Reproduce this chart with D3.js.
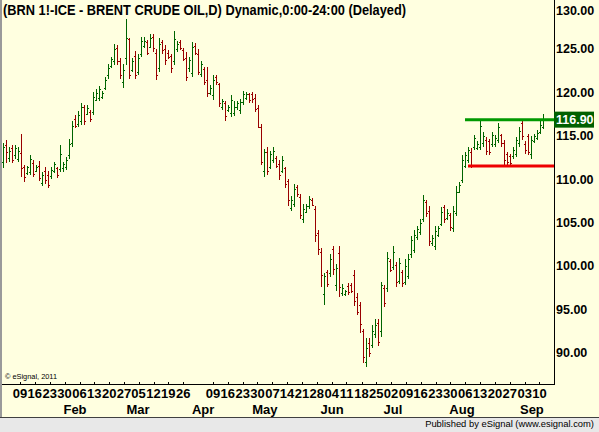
<!DOCTYPE html>
<html><head><meta charset="utf-8">
<script src="https://cdn.jsdelivr.net/npm/d3@7"></script>
<style>html,body{margin:0;padding:0;background:#FFFFE0;}svg{display:block;}</style>
</head><body>
<svg id="c" width="599" height="432"></svg>
<script>
// ---- data ----
const opens = [112.0,114.0,112.5,113.6,112.8,112.4,113.1,111.4,110.7,110.9,111.9,111.0,111.6,109.6,111.0,110.5,110.4,111.0,111.3,111.2,
111.3,111.5,112.8,114.2,117.0,116.4,116.8,118.3,117.6,117.8,117.8,119.2,119.4,119.5,120.6,122.0,123.1,123.6,125.2,123.7,
121.2,124.0,126.2,122.6,124.2,122.4,124.5,125.4,125.8,125.3,126.4,124.6,122.8,125.8,125.0,124.6,124.2,123.6,125.0,125.8,
124.9,124.0,122.8,122.3,125.4,124.5,122.2,122.7,121.5,120.0,119.7,121.8,121.0,118.3,118.8,118.0,117.7,117.7,118.3,118.0,
118.9,119.4,119.8,119.9,119.4,118.2,116.0,111.0,113.2,111.5,112.2,112.5,111.8,111.0,111.3,109.8,106.7,107.2,109.1,108.0,
105.4,106.3,106.9,107.7,106.6,103.8,101.6,96.8,99.3,99.2,102.0,97.8,101.5,96.9,96.8,97.7,97.9,99.0,96.5,95.5,
92.5,89.0,91.2,91.0,92.2,93.5,92.5,97.5,97.5,100.6,99.9,100.2,98.3,99.4,98.2,98.9,101.4,101.9,103.4,104.0,
105.5,107.4,106.4,102.7,102.4,103.6,104.9,106.8,105.6,105.9,104.4,106.2,108.6,110.0,111.6,112.2,113.2,113.7,113.6,113.8,
114.2,114.6,114.4,114.1,114.1,114.6,115.1,114.2,112.9,112.7,112.7,113.0,114.2,116.5,114.1,115.0,112.9,114.4,114.8,115.5,
116.0];
const highs = [114.2,114.6,113.7,114.0,114.0,113.7,115.3,111.7,111.6,112.8,112.2,111.7,112.1,110.9,111.4,111.0,111.5,112.0,111.5,114.0,
112.0,112.6,114.7,116.7,117.4,117.9,118.8,118.6,118.6,118.0,120.1,120.4,120.8,120.2,121.8,123.3,124.1,125.6,125.5,124.0,
123.3,128.5,126.3,124.0,124.8,124.5,126.4,126.4,126.1,126.8,126.8,125.0,126.3,126.1,125.5,124.9,124.5,127.1,125.9,126.1,
125.2,124.7,124.1,125.8,125.7,125.0,123.7,123.0,123.0,120.9,122.0,122.0,121.1,119.3,119.1,118.6,119.7,119.0,119.1,119.3,
120.2,120.1,120.0,120.1,119.8,118.6,116.4,113.5,113.7,113.3,113.8,112.7,112.2,112.7,111.5,110.1,108.1,109.5,109.4,108.3,
107.2,107.2,108.1,107.9,106.9,104.2,102.1,99.2,99.6,101.4,102.4,100.3,102.3,98.0,97.3,98.1,98.1,99.6,96.9,95.9,
92.8,91.7,91.7,93.2,93.9,93.9,98.2,97.8,101.7,100.9,102.3,100.5,101.0,99.6,100.8,101.4,103.5,104.2,104.7,105.4,
108.2,107.7,106.9,103.6,104.6,104.7,106.8,107.1,106.6,106.2,106.9,109.2,109.7,112.8,113.2,113.8,113.6,115.1,114.4,116.9,
115.5,114.9,114.7,115.5,115.1,116.5,115.3,114.5,113.2,113.0,113.8,114.9,116.1,116.8,114.4,115.3,115.0,115.3,115.7,116.7,
117.5];
const lows = [111.3,111.9,112.0,111.9,112.4,112.0,110.3,109.7,110.5,110.5,110.3,110.9,109.8,109.2,109.5,109.0,110.1,110.7,110.2,110.9,
110.9,111.1,112.4,113.8,115.9,116.1,116.3,116.3,117.4,116.6,117.4,119.0,119.0,119.3,120.3,121.6,122.9,123.2,123.2,121.6,
120.5,123.2,121.6,122.4,121.6,122.0,124.1,125.1,124.3,125.1,124.7,121.5,122.4,124.5,123.2,123.9,122.3,123.2,124.7,124.9,
123.6,121.4,122.4,121.8,124.3,122.0,121.8,120.9,119.5,119.7,119.2,120.9,118.3,118.0,116.7,117.8,117.2,117.3,118.0,117.5,
118.6,119.2,118.8,118.8,117.8,115.9,111.7,110.3,110.5,111.2,111.9,111.3,109.9,110.7,109.0,106.9,106.4,106.8,108.0,105.4,
105.0,106.1,106.6,106.9,102.8,101.3,97.6,95.5,97.6,98.8,99.0,97.2,96.5,96.6,96.6,96.7,96.9,95.4,94.4,92.3,
88.9,88.4,89.6,90.6,91.7,90.8,91.9,95.3,97.1,99.3,99.6,97.6,98.0,97.6,97.8,98.5,101.0,101.5,103.0,103.6,
105.1,105.7,102.3,102.4,101.9,103.4,104.6,105.0,105.3,104.1,104.0,105.8,108.4,109.6,111.3,111.9,111.3,113.4,113.4,113.4,
113.8,112.8,112.8,113.8,113.8,114.2,113.8,111.7,111.7,111.5,112.4,112.6,113.8,114.5,113.0,112.8,112.4,114.2,114.5,115.3,
115.8];
const closes = [113.8,113.2,113.3,112.3,113.6,113.3,111.3,110.3,111.4,112.4,110.6,111.5,110.2,110.5,109.9,109.4,111.1,111.8,110.5,113.0,
111.8,112.2,114.1,116.2,116.2,117.4,118.3,116.8,118.2,117.0,119.5,120.0,120.4,120.0,121.5,122.9,123.9,125.0,123.6,122.0,
122.6,126.3,122.0,123.6,122.0,124.0,126.0,126.0,124.6,126.3,125.1,122.0,125.6,124.9,123.8,124.1,122.8,126.2,125.6,125.2,
123.9,121.8,123.8,125.3,124.6,122.4,123.3,121.2,120.0,120.6,121.5,121.2,118.8,119.0,117.3,118.4,119.2,118.4,118.8,118.9,
119.8,119.9,119.2,119.3,118.1,116.1,112.0,113.2,111.0,112.9,113.3,111.6,110.5,112.3,109.5,107.6,107.6,108.9,108.3,105.9,
106.6,106.9,107.8,107.1,103.6,102.0,99.0,98.9,98.0,100.8,99.7,99.8,97.6,97.5,97.2,97.0,97.2,96.0,94.8,93.4,
89.6,90.6,90.0,92.5,93.2,91.3,97.8,95.8,101.0,99.6,101.7,98.2,100.4,98.1,100.1,100.8,103.0,103.6,104.3,105.0,
107.6,106.1,102.9,103.3,104.1,104.4,106.3,105.5,106.2,104.5,106.4,108.6,109.4,112.3,112.8,113.4,111.7,114.8,114.1,116.2,
115.0,113.3,113.2,115.1,114.8,116.0,114.2,112.2,112.0,111.9,113.4,114.5,115.6,115.0,113.4,113.2,114.5,115.0,115.4,116.3,
116.9];
const priceTicks = [90,95,100,105,110,115,120,125,130];
const lastPrice = 116.90;
const resistance = {level:116.90, fromBar:154};
const support = {level:111.55, fromBar:155};
const weekIdx = [5.7,10.6,15.6,20.5,25.5,30.4,35.4,40.3,45.2,50.2,55.1,60.1,70.0,74.9,79.9,84.8,89.8,94.7,99.7,104.6,
109.6,114.5,119.5,124.4,129.3,134.3,139.2,144.2,149.1,154.1,159.0,164.0,168.9,173.9,178.8];
const weekLabels = ["09","16","23","30","06","13","20","27","05","12","19","26","09","16","23","30","07","14","21","28",
"04","11","18","25","02","09","16","23","30","06","13","20","27","03","10"];
const monthIdx = [24,45,66.7,87.3,109.7,130,153,176.3];
const monthLabels = ["Feb","Mar","Apr","May","Jun","Jul","Aug","Sep"];
const title = "(BRN 1!-ICE - BRENT CRUDE OIL,D) Dynamic,0:00-24:00 (Delayed)";

// ---- drawing ----
const W=599,H=432, plotR=554, axisY=384, footY=417;
const svg = d3.select("#c");
const FONT = "'Liberation Sans', Arial, sans-serif";
svg.append("rect").attr("x",0).attr("y",0).attr("width",W).attr("height",H).attr("fill","#FFFFE0");

const x = d3.scaleLinear().domain([0,180]).range([3,543]);
const y = d3.scaleLinear().domain([90,130]).range([353.2,5.9]);

const bars = d3.range(opens.length).map(i=>({i,o:opens[i],h:highs[i],l:lows[i],c:closes[i]}));
const gB = svg.append("g");
bars.forEach(d=>{
  const col = d.c>=d.o ? "#006400" : "#990000";
  const xi = Math.round(x(d.i));
  const yh = Math.round(y(d.h)), yl = Math.round(y(d.l));
  gB.append("rect").attr("x",xi).attr("y",yh).attr("width",1).attr("height",Math.max(1,yl-yh)).attr("fill",col);
  gB.append("rect").attr("x",xi-1).attr("y",Math.round(y(d.o))).attr("width",1).attr("height",1).attr("fill",col);
  gB.append("rect").attr("x",xi+1).attr("y",Math.round(y(d.c))).attr("width",1).attr("height",1).attr("fill",col);
});

// support / resistance lines
svg.append("line").attr("x1",x(resistance.fromBar)).attr("x2",plotR).attr("y1",y(resistance.level)).attr("y2",y(resistance.level))
  .attr("stroke","#009900").attr("stroke-width",3);
svg.append("line").attr("x1",x(support.fromBar)).attr("x2",plotR).attr("y1",y(support.level)).attr("y2",y(support.level))
  .attr("stroke","#EE0000").attr("stroke-width",3);

// frame
svg.append("line").attr("x1",plotR+0.5).attr("x2",plotR+0.5).attr("y1",0).attr("y2",axisY+1).attr("stroke","#000").attr("stroke-width",1);
svg.append("line").attr("x1",0).attr("x2",plotR+1).attr("y1",axisY+0.5).attr("y2",axisY+0.5).attr("stroke","#000").attr("stroke-width",1);
svg.append("rect").attr("x",0).attr("y",0).attr("width",2).attr("height",footY).attr("fill","#9a9a9a");

// right price axis
const yAxis = d3.axisRight(y).tickValues(priceTicks).tickSize(0).tickPadding(2).tickFormat(d3.format(".2f"));
const gy = svg.append("g").attr("transform",`translate(${plotR},0)`).call(yAxis);
gy.select(".domain").remove();
gy.selectAll("text").attr("font-family",FONT).attr("font-size","12.5px").attr("font-weight","bold").attr("fill","#000");
gy.selectAll(".tick").attr("transform",d=>`translate(0,${Math.max(y(d),10.7)})`);

// last price box
const ly = y(lastPrice);
svg.append("rect").attr("x",plotR).attr("y",ly-8).attr("width",40).attr("height",16).attr("fill","#006000");
svg.append("text").attr("x",plotR+2).attr("y",ly).attr("dy","0.36em").attr("font-family",FONT).attr("font-size","12.5px")
  .attr("font-weight","bold").attr("fill","#fff").text(d3.format(".2f")(lastPrice));

// bottom axis: weekly ticks + labels
const gx = svg.append("g");
weekIdx.forEach((w,k)=>{
  const cx = x(w);
  gx.append("rect").attr("x",Math.round(cx)).attr("y",axisY-2).attr("width",1).attr("height",2).attr("fill","#000");
  gx.append("text").attr("x",cx).attr("y",397.5).attr("text-anchor","middle").attr("font-family",FONT)
    .attr("font-size","13px").attr("font-weight","bold").attr("fill","#000").text(weekLabels[k]);
});
monthIdx.forEach((m,k)=>{
  gx.append("text").attr("x",x(m)).attr("y",414).attr("text-anchor","middle").attr("font-family",FONT)
    .attr("font-size","13px").attr("font-weight","bold").attr("fill","#000").text(monthLabels[k]);
});

// title
svg.append("text").attr("x",3).attr("y",15).attr("font-family",FONT).attr("font-size","14px").attr("font-weight","bold")
  .attr("fill","#000").attr("textLength",403).attr("lengthAdjust","spacingAndGlyphs").text(title);

// copyright
svg.append("text").attr("x",5).attr("y",379).attr("font-family",FONT).attr("font-size","7.5px").attr("fill","#000")
  .attr("textLength",52).attr("lengthAdjust","spacingAndGlyphs").text("\u00A9 eSignal, 2011");

// footer
svg.append("rect").attr("x",0).attr("y",footY).attr("width",W).attr("height",H-footY).attr("fill","#E8E8E8");
svg.append("line").attr("x1",0).attr("x2",W).attr("y1",footY+0.5).attr("y2",footY+0.5).attr("stroke","#404040");
svg.append("text").attr("x",594).attr("y",426.5).attr("text-anchor","end").attr("font-family",FONT).attr("font-size","9.4px")
  .attr("fill","#000").text("Published by eSignal (www.esignal.com)");
</script>
</body></html>
